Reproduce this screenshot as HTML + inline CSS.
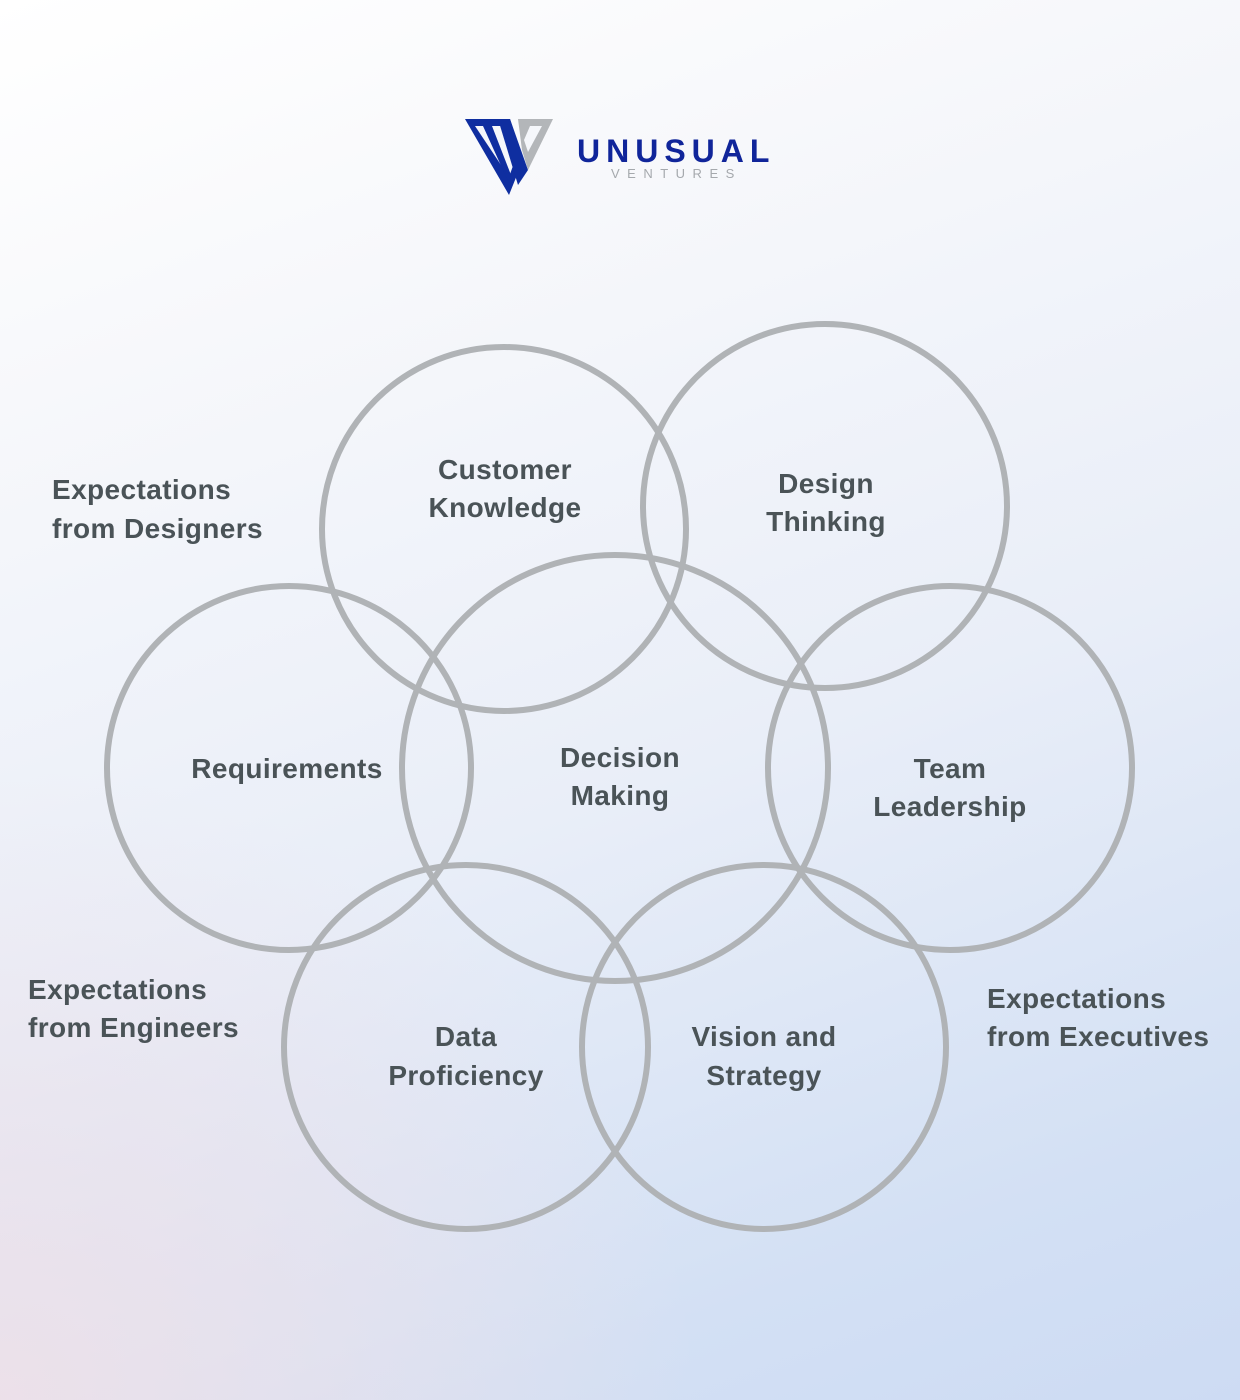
<!DOCTYPE html>
<html><head><meta charset="utf-8"><style>
html,body{margin:0;padding:0;width:1240px;height:1400px;overflow:hidden}
body{background:
radial-gradient(ellipse 1000px 900px at 0% 100%, rgba(238,224,232,0.9), rgba(238,224,232,0) 70%),
linear-gradient(160deg,#ffffff 0%,#f7f8fb 22%,#e9eef8 55%,#d3e0f4 85%,#cddbf3 100%);}
svg{display:block}
text{font-family:"Liberation Sans",sans-serif;font-weight:bold;fill:#4a5357;font-size:28px;letter-spacing:0.4px}
</style></head><body>
<svg width="1240" height="1400" viewBox="0 0 1240 1400">
<g>
<polygon points="465,119 510,119 523,160 509,195" fill="#0f2ea0"/>
<polygon points="475,126 502,126 514,163 509,177" fill="#f5f7fb"/>
<polygon points="483,126 492,126 511,175 508,181" fill="#0f2ea0"/>
<polygon points="498,119 510,119 528,170 518,185" fill="#0f2ea0"/>
<polygon points="518,119 553,119 528,170 522,150" fill="#b3b6b9"/>
<polygon points="530,126 542,126 528,152 524,140" fill="#f5f7fb"/>
<text x="577" y="162" style="font-size:32px;fill:#10259a;letter-spacing:6px;font-weight:bold">UNUSUAL</text>
<text x="611" y="178" style="font-size:13px;fill:#a5a9ad;letter-spacing:7.5px;font-weight:normal">VENTURES</text>
</g>
<g fill="none" stroke="#b0b3b6" stroke-width="6">
<circle cx="504" cy="529" r="182"/>
<circle cx="825" cy="506" r="182"/>
<circle cx="289" cy="768" r="182"/>
<circle cx="615" cy="768" r="213"/>
<circle cx="950" cy="768" r="182"/>
<circle cx="466" cy="1047" r="182"/>
<circle cx="764" cy="1047" r="182"/>
</g>
<g text-anchor="middle">
<text x="505" y="479">Customer</text><text x="505" y="517">Knowledge</text>
<text x="826" y="493">Design</text><text x="826" y="531">Thinking</text>
<text x="287" y="778">Requirements</text>
<text x="620" y="767">Decision</text><text x="620" y="805">Making</text>
<text x="950" y="778">Team</text><text x="950" y="816">Leadership</text>
<text x="466" y="1046">Data</text><text x="466" y="1085">Proficiency</text>
<text x="764" y="1046">Vision and</text><text x="764" y="1085">Strategy</text>
</g>
<g>
<text x="52" y="499">Expectations</text><text x="52" y="538">from Designers</text>
<text x="28" y="999">Expectations</text><text x="28" y="1037">from Engineers</text>
<text x="987" y="1008">Expectations</text><text x="987" y="1046">from Executives</text>
</g>
</svg>
</body></html>
